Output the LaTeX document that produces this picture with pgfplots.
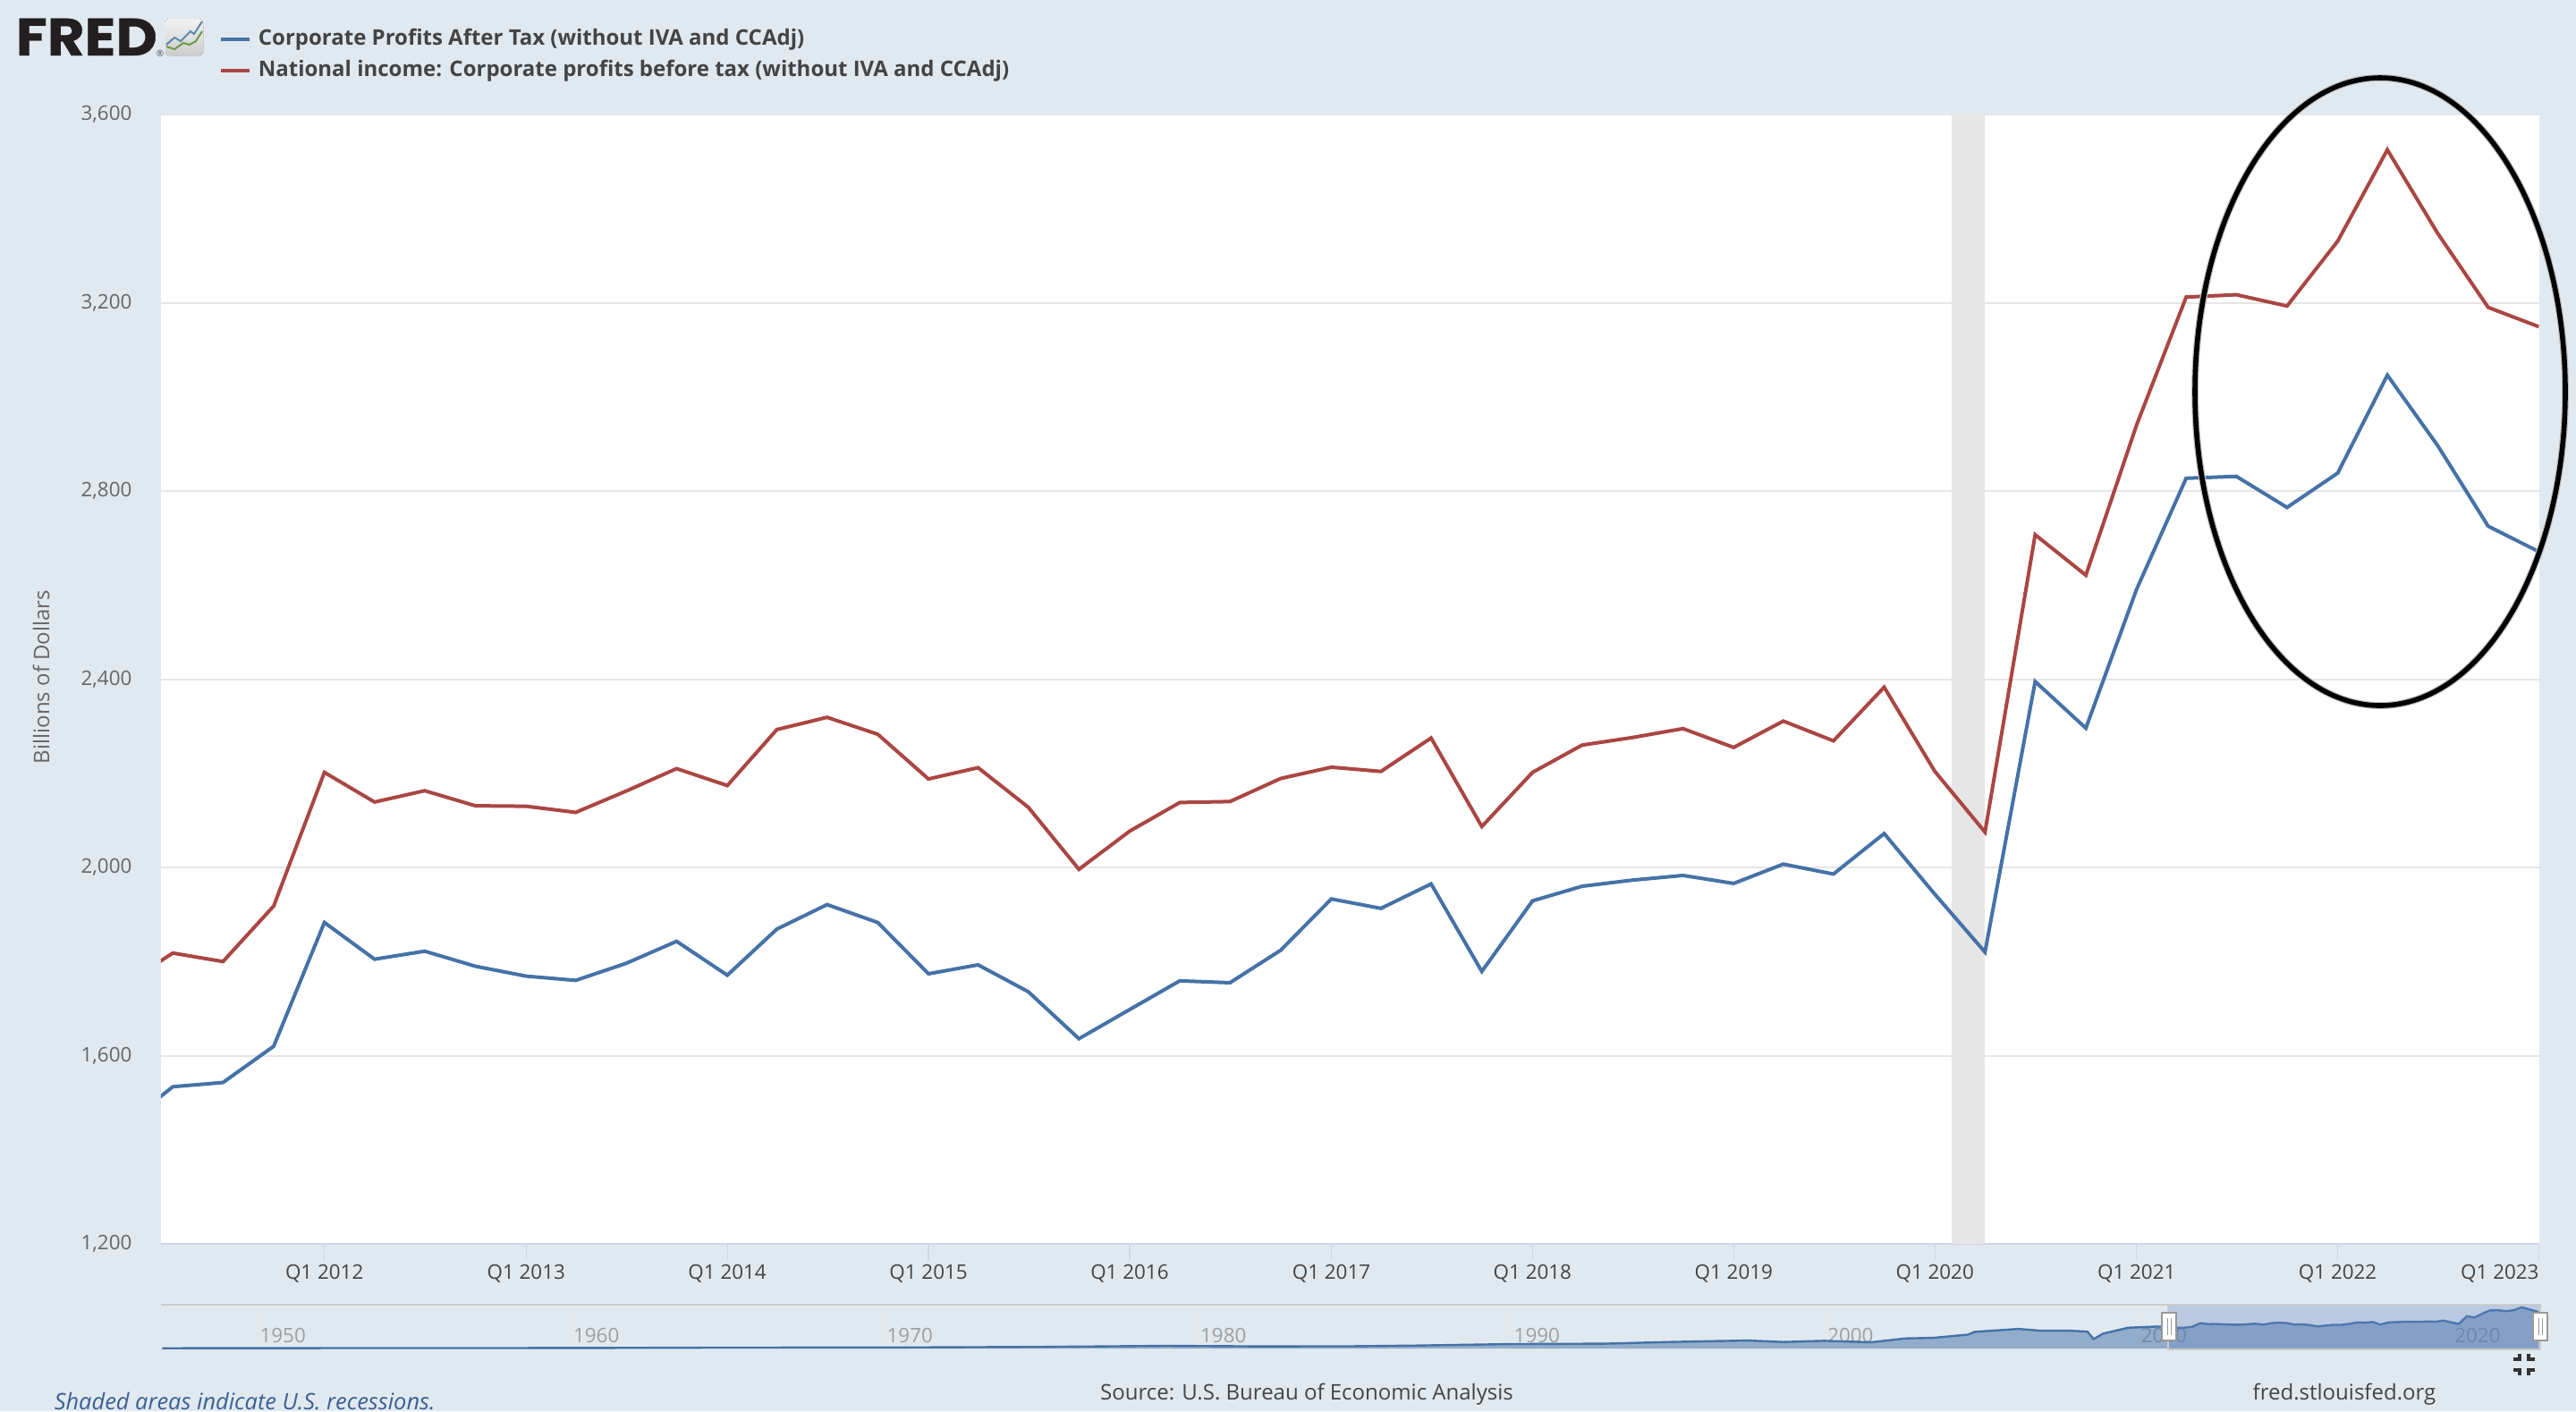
\documentclass[border=0pt]{standalone}
\usepackage{fontspec}
\usepackage{pgfplots}
\usepackage{pgfplotstable}
\pgfplotsset{compat=1.18}
\setmainfont{Open Sans}
\newfontfamily\logofont[FakeStretch=1.09,FakeBold=0.6]{Poppins}
\definecolor{bgc}{HTML}{E1E9F0}
\definecolor{blueS}{HTML}{4572A7}
\definecolor{redS}{HTML}{AA4643}
\definecolor{gridc}{HTML}{E6E6E6}
\definecolor{axc}{HTML}{CCD6EB}
\definecolor{txt}{HTML}{666666}
\definecolor{dark}{HTML}{444444}
\definecolor{maskc}{RGB}{102,133,194}
\definecolor{noteblue}{RGB}{58,95,148}
\definecolor{logok}{RGB}{35,31,32}
\definecolor{icoblue}{RGB}{91,139,176}
\definecolor{icogreen}{RGB}{106,154,69}
\pgfplotstableread{
x red blue
0 1750 1450
90 1818 1534
181 1800 1543
273 1918 1620
365 2202 1883
456 2139 1805
547 2163 1822
639 2131 1790
731 2130 1769
821 2117 1760
912 2162 1796
1004 2210 1843
1096 2174 1771
1186 2293 1869
1277 2319 1921
1369 2283 1883
1461 2188 1774
1551 2212 1793
1642 2128 1736
1734 1996 1636
1826 2077 1698
1917 2138 1759
2008 2140 1755
2100 2189 1824
2192 2213 1933
2282 2204 1913
2373 2275 1965
2465 2087 1779
2557 2202 1929
2647 2260 1960
2738 2276 1973
2830 2295 1983
2922 2255 1966
3012 2311 2007
3103 2269 1986
3195 2383 2072
3287 2204 1943
3378 2075 1820
3469 2707 2395
3561 2621 2296
3653 2940 2591
3743 3212 2827
3834 3217 2831
3926 3193 2765
4018 3331 2838
4108 3525 3046
4199 3348 2897
4291 3190 2725
4383 3149 2671
}\maindata
\pgfplotstableread{
y v
1947.0 20
1950.0 30
1960.0 40
1965.0 70
1970.0 75
1975.0 120
1979.0 200
1982.0 160
1985.0 170
1987.0 220
1990.0 330
1993.0 360
1995.0 480
1996.0 528
1997.6 594
1998.7 484
2000.0 572
2001.5 462
2002.6 748
2003.5 792
2004.6 1034
2004.8 1232
2006.2 1452
2006.9 1320
2007.8 1320
2008.4 1254
2008.6 704
2008.9 1100
2009.7 1540
2010.6 1628
2010.9 1620
2011.25 1534
2011.5 1543
2011.75 1620
2012.0 1883
2012.25 1805
2012.5 1822
2012.75 1790
2013.0 1769
2013.25 1760
2013.5 1796
2013.75 1843
2014.0 1771
2014.25 1869
2014.5 1921
2014.75 1883
2015.0 1774
2015.25 1793
2015.5 1736
2015.75 1636
2016.0 1698
2016.25 1759
2016.5 1755
2016.75 1824
2017.0 1933
2017.25 1913
2017.5 1965
2017.75 1779
2018.0 1929
2018.25 1960
2018.5 1973
2018.75 1983
2019.0 1966
2019.25 2007
2019.5 1986
2019.75 2072
2020.0 1943
2020.25 1820
2020.5 2395
2020.75 2296
2021.0 2591
2021.25 2827
2021.5 2831
2021.75 2765
2022.0 2838
2022.25 3046
2022.5 2897
2022.75 2725
2023.0 2671
}\navdata
\begin{document}
\begin{tikzpicture}
\useasboundingbox (0pt,0pt) rectangle (720pt,-394.5pt);
\fill[bgc] (0pt,0pt) rectangle (720pt,-394.5pt);
% main axis
\begin{axis}[
  at={(45pt,-347.75pt)}, anchor=south west, scale only axis,
  width=664.625pt, height=315.75pt,
  xmin=68.5, xmax=4383, ymin=1200, ymax=3600,
  axis background/.style={fill=white},
  axis lines=left,
  x axis line style={-,draw=axc,line width=0.65pt},
  y axis line style={draw=none},
  ytick={1200,1600,2000,2400,2800,3200,3600},
  xtick={365,731,1096,1461,1826,2192,2557,2922,3287,3653,4018,4383},
  xticklabels={Q1 2012,Q1 2013,Q1 2014,Q1 2015,Q1 2016,Q1 2017,Q1 2018,Q1 2019,Q1 2020,Q1 2021,Q1 2022,\makebox[0pt][r]{Q1 2023}},
  ymajorgrids, grid style={gridc,line width=0.5pt},
  tick align=outside, major tick length=4.75pt,
  xtick style={draw=axc,line width=0.3pt},
  ytick style={draw=none},
  tick label style={font=\fontsize{5.6}{6.5}\selectfont,text=dark},
  y tick label style={anchor=east,inner sep=0pt,xshift=-3.2pt,text=txt},
  x tick label style={anchor=base,inner sep=0pt,yshift=-5pt},
  /pgf/number format/.cd,1000 sep={,},assume math mode=true,
  /pgfplots/.cd,
  ylabel={Billions of Dollars},
  every axis y label/.style={at={(axis description cs:-0.0504,0.502)},rotate=90,anchor=center,font=\fontsize{6}{7}\selectfont,text=txt},
  legend style={at={(0.0244,1.0825)},anchor=north west,draw=none,fill=none,inner sep=0pt,outer sep=0pt,
    font=\bfseries\fontsize{6}{7.5}\selectfont,text=dark,row sep=-1.3pt,
    /tikz/every even column/.append style={column sep=0pt}},
  legend cell align=left,
  legend image code/.code={\draw[#1,line width=1pt] (0,0) -- (8pt,0);},
  clip=true,
]
\addplot[fill=gridc,draw=none,forget plot] coordinates {(3318,1200) (3318,3600) (3378,3600) (3378,1200)} --cycle;
\addplot[blueS,line width=1pt,line join=miter] table[x=x,y=blue] {\maindata};
\addlegendentry{Corporate Profits After Tax (without IVA and CCAdj)}
\addplot[redS,line width=1pt,line join=miter] table[x=x,y=red] {\maindata};
\addlegendentry{National income: Corporate profits before tax (without IVA and CCAdj)}
\end{axis}
% navigator
\begin{axis}[
  at={(45pt,-377pt)}, anchor=south west, scale only axis,
  width=664.625pt, height=12.25pt,
  xmin=1946.96, xmax=2022.8, ymin=0, ymax=3244,
  axis line style={draw=none},
  ytick=\empty,
  xtick={1950,1960,1970,1980,1990,2000,2010,2020},
  xticklabels={1950,1960,1970,1980,1990,2000,2010,2020},
  xtick pos=lower, tick align=inside, major tick length=12.25pt,
  xtick style={draw=gridc,line width=0.2pt},
  x tick label style={font=\fontsize{5.6}{6.5}\selectfont,text=gray!75,anchor=west,inner sep=0pt,xshift=0.8pt,yshift=3.7pt},
  /pgf/number format/.cd,1000 sep={},assume math mode=true,
  /pgfplots/.cd,
  clip=true,
]
\addplot[fill=blueS,fill opacity=0.5,draw=none] table[x=y,y=v] {\navdata} \closedcycle;
\addplot[blueS,line width=0.6pt] table[x=y,y=v] {\navdata};
\end{axis}
\begin{scope}[x=0.25pt,y=-0.25pt]
% navigator mask and outline
\fill[fill=maskc,fill opacity=0.3] (2424,1459) rectangle (2840,1508);
\draw[gray!40,line width=0.7pt] (180,1459) -- (2840,1459) -- (2840,1509) -- (2424,1509) -- (2424,1459);
\foreach \hx in {2425,2840}{
  \draw[gray!80,fill=white,line width=0.5pt] (\hx-8,1468) rectangle (\hx+8,1499);
  \draw[gray!80,line width=0.25pt] (\hx-2,1474) -- (\hx-2,1493) (\hx+2,1474) -- (\hx+2,1493);
}
% compress icon
\draw[black!80,line width=0.9pt] (2810,1520)--(2817,1520)--(2817,1514) (2834,1520)--(2827,1520)--(2827,1514)
  (2810,1532)--(2817,1532)--(2817,1538) (2834,1532)--(2827,1532)--(2827,1538);
% footer
\node[anchor=base west,inner sep=0pt,text=noteblue] at (60,1576) {\fontsize{6.35}{7}\selectfont\itshape Shaded areas indicate U.S. recessions.};
\node[anchor=base,inner sep=0pt,text=dark] at (1461,1565) {\fontsize{6}{7}\selectfont Source: U.S. Bureau of Economic Analysis};
\node[anchor=base,inner sep=0pt,text=dark] at (2621,1565) {\fontsize{6}{7}\selectfont fred.stlouisfed.org};
% logo
\node[anchor=base west,inner sep=0pt,text=logok] at (17,62) {\logofont\bfseries\fontsize{14.7}{16}\selectfont FRED};
\node[anchor=center,inner sep=0pt,text=black!70] at (179,60) {\fontsize{2.5}{3}\selectfont ®};
\fill[rounded corners=1pt,top color=gray!10,bottom color=gray!40] (185,21) rectangle (227,62);
\draw[icoblue,line width=0.5pt] (186,50)--(195,42)--(202,46)--(213,35)--(217,38)--(226,24);
\draw[icogreen,line width=0.5pt] (186,52)--(195,55)--(205,48)--(212,50)--(219,46)--(226,35);
% ellipse annotation
\draw[black!25,line width=2pt] (2661,438) ellipse [x radius=207, y radius=351];
\draw[black,line width=1.4pt] (2661,438) ellipse [x radius=207, y radius=351];
\end{scope}
\end{tikzpicture}
\end{document}
